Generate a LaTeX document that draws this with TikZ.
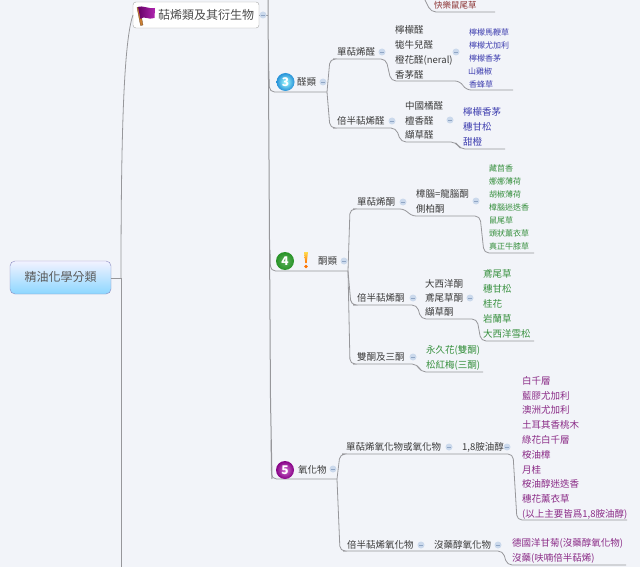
\documentclass[tikz,border=0pt]{standalone}
\usepackage{fontspec}
\setmainfont{Noto Sans CJK TC}
\usetikzlibrary{calc}
\definecolor{bgc}{HTML}{F2F4F9}
\definecolor{linkc}{HTML}{97979B}
\definecolor{ink}{HTML}{3A3A3A}
\definecolor{bluet}{HTML}{3C3CAE}
\definecolor{greent}{HTML}{358F3C}
\definecolor{purt}{HTML}{8A2A86}
\definecolor{redt}{HTML}{8A3030}
\definecolor{togc}{HTML}{CBD9EC}
\definecolor{togd}{HTML}{8FA5C4}
\newcommand{\conn}[3][3]{\draw[link] (#2) -- ($(#2|-#3)+(#1,0)$) -- (#3);}
\tikzset{
  link/.style={draw=linkc,line width=0.8pt,rounded corners=5pt},
  lbl/.style={anchor=west,inner sep=0pt,text=ink,font=\fontsize{9.5}{10}\selectfont},
  bluel/.style={lbl,text=bluet,font=\fontsize{8}{9}\selectfont},
  blueb/.style={lbl,text=bluet,font=\fontsize{9.5}{10}\selectfont},
  greens/.style={lbl,text=greent,font=\fontsize{8}{9}\selectfont},
  greenb/.style={lbl,text=greent,font=\fontsize{9.5}{10}\selectfont},
  purl/.style={lbl,text=purt,font=\fontsize{9.5}{10}\selectfont},
  tog/.style={circle,minimum size=7pt,inner sep=0pt,fill=togc,
    path picture={\draw[togd,line width=0.6pt] ([xshift=-1.8pt]path picture bounding box.center) -- ([xshift=1.8pt]path picture bounding box.center);}},
  ball/.style={circle,minimum size=18pt,inner sep=0pt,text=white,font=\bfseries\fontsize{12}{12}\selectfont},
}
\begin{document}
\begin{tikzpicture}[x=1pt,y=-1pt]
\useasboundingbox (0,0) rectangle (640,567);
\fill[bgc] (0,0) rectangle (640,567);

% named line ends
\coordinate (trunkA) at (121,278);
\coordinate (trunkB) at (121,567);
\coordinate (flagIn) at (133,15);
\coordinate (top2) at (268,0);
\coordinate (fork) at (268,15);
\coordinate (b3s) at (272,92);
\coordinate (b3e) at (327,92);
\coordinate (b4s) at (272,271);
\coordinate (b4e) at (348,271);
\coordinate (b5s) at (272,479);
\coordinate (b5e) at (337,479);
\coordinate (a1s) at (333,59);
\coordinate (a1e) at (386,59);
\coordinate (a1x) at (391,81);
\coordinate (a1y) at (460,81);
\coordinate (a1p) at (466,90);
\coordinate (a1q) at (513,90);
\coordinate (a2s) at (333,128);
\coordinate (a2e) at (396,128);
\coordinate (a2x) at (401,142);
\coordinate (a2y) at (456,142);
\coordinate (a2p) at (460,149);
\coordinate (a2q) at (505,149);
\coordinate (k1s) at (353,209);
\coordinate (k1e) at (405,209);
\coordinate (k1x) at (411,216);
\coordinate (k1y) at (480,216);
\coordinate (k1p) at (484,253);
\coordinate (k1q) at (534,253);
\coordinate (k2s) at (353,305);
\coordinate (k2e) at (417,305);
\coordinate (k2x) at (421,319);
\coordinate (k2y) at (477,319);
\coordinate (k2p) at (481,341);
\coordinate (k2q) at (534,341);
\coordinate (k3s) at (353,364);
\coordinate (k3e) at (417,364);
\coordinate (k3x) at (421,372);
\coordinate (k3y) at (483,372);
\coordinate (o1s) at (342,454);
\coordinate (o1e) at (513,454);
\coordinate (o1p) at (517,520);
\coordinate (o1q) at (627,520);
\coordinate (o2s) at (343,551);
\coordinate (o2e) at (428,551);
\coordinate (o2y) at (503,551);
\coordinate (o2p) at (507,565);
\coordinate (o2q) at (626,565);
\coordinate (t0a) at (425,0);
\coordinate (t0b) at (431,12);
\coordinate (t0c) at (495,12);

% central nodes
\node[draw=blue!30!gray!70,rounded corners=5pt,top color=blue!5!white,bottom color=blue!35!cyan!45!white,
  minimum width=101pt,minimum height=33pt,inner sep=0pt,text=black!65,font=\fontsize{12}{12}\selectfont] (root) at (60.5,277.5) {精油化學分類};
\node[draw=black!35,fill=white,rounded corners=3pt,minimum width=126pt,minimum height=26pt,inner sep=0pt] (flagbox) at (196,15) {};
\node[anchor=west,inner sep=0pt,text=black!70,font=\fontsize{12}{12}\selectfont] (flagtext) at (158,15) {萜烯類及其衍生物};

% connectors
\draw[link] (root.east|-trunkA) -- (trunkA);
\draw[link] (trunkA) -- (trunkB);
\draw[link] (trunkA) .. controls (121,130) and (124,40) .. (flagIn);
\draw[link] (flagbox.east) -- (fork);
\draw[link,line width=1pt] (top2) -- (270.5,400) -- (b5s|-b5e);
\draw[link] (268.5,60) -- (269.5,92) -- (b3e);
\draw[link] (270,250) -- (270.5,271) -- (b4e);
\draw[link] (271,440) -- (271.5,479) -- (b5e);
\conn{b3e}{a1s}
\conn{b3e}{a2s}
\draw[link] (a1s) -- (a1e) -- (a1x) -- (a1y) -- (a1p) -- (a1q);
\draw[link] (a2s) -- (a2e) -- (a2x) -- (a2y) -- (a2p) -- (a2q);
\conn[2]{b4e}{k1s}
\conn[3]{b4e}{k2s}
\conn[2]{b4e}{k3s}
\draw[link] (k1s) -- (k1e) -- (k1x) -- (k1y) -- (k1p) -- (k1q);
\draw[link] (k2s) -- (k2e) -- (k2x) -- (k2y) -- (k2p) -- (k2q);
\draw[link] (k3s) -- (k3e) -- (k3x) -- (k3y);
\conn{b5e}{o1s}
\conn{b5e}{o2s}
\draw[link] (o1s) -- (o1e) -- (o1p) -- (o1q);
\draw[link] (o2s) -- (o2y) -- (o2p) -- (o2q);
\draw[link] (t0a) -- (t0b) -- (t0c);

% flag icon
\fill[brown!80!orange,draw=brown!60!black,line width=0.3pt] (137,7.5) -- (139.5,7) -- (143,25) -- (140.5,25.5) -- cycle;
\shade[left color=violet!80!black,right color=violet!45!magenta!70!gray] (138,7) .. controls (143,5) and (147,9) .. (155,8)
  -- (154.5,18) .. controls (148,20.5) and (144,15) .. (140.5,19) -- cycle;

% number balls
\shade[inner color=cyan!35!white,outer color=cyan!60!blue!70!gray] (285.5,82) circle (9pt);
\node[ball] (n3) at (285.5,82) {3};
\node[lbl] (aldeh) at (297,82) {醛類};
\node[tog] (c3) at (323,82) {};
\shade[inner color=green!45!white!70!black,outer color=green!50!black!85] (285,261) circle (9pt);
\node[ball] (n4) at (285,261) {4};
\shade[top color=orange!40!yellow!70!white,bottom color=orange!90!red] (304,252) -- (308,252) -- (306.7,263) -- (305.3,263) -- cycle;
\fill[orange!90!red] (306,266.5) circle (1.8pt);
\node[lbl] (keton) at (318,261) {酮類};
\node[tog] (c4) at (344,261) {};
\shade[inner color=magenta!35!violet!55!white,outer color=violet!60!magenta!75!black] (285,470) circle (9pt);
\node[ball] (n5) at (285,470) {5};
\node[lbl] (oxide) at (298,470) {氧化物};
\node[tog] (c5) at (333,469) {};
\node[tog] (cf) at (263,15) {};

% top fragment
\node[lbl,text=redt,font=\fontsize{8.5}{9}\selectfont] (r0) at (434,5) {快樂鼠尾草};

% aldehydes
\node[lbl] (a1) at (337,52) {單萜烯醛};
\node[tog] (ca1) at (382,52) {};
\node[lbl] (a11) at (395,30) {檸檬醛};
\node[lbl] (a12) at (395,45) {牻牛兒醛};
\node[lbl] (a13) at (395,60) {橙花醛(neral)};
\node[lbl] (a14) at (395,75) {香茅醛};
\node[tog] (ca11) at (456,52) {};
\node[bluel] (p1) at (469,32) {檸檬馬鞭草};
\node[bluel] (p2) at (469,45) {檸檬尤加利};
\node[bluel] (p3) at (469,58) {檸檬香茅};
\node[bluel] (p4) at (468,71) {山雞椒};
\node[bluel] (p5) at (469,84) {香蜂草};
\node[lbl] (a2) at (337,121) {倍半萜烯醛};
\node[tog] (ca2) at (392,121) {};
\node[lbl] (a21) at (405,106) {中國橘醛};
\node[lbl] (a22) at (405,121) {檀香醛};
\node[lbl] (a23) at (405,135) {纈草醛};
\node[tog] (ca21) at (450,120) {};
\node[blueb] (q1) at (463,112) {檸檬香茅};
\node[blueb] (q2) at (463,127) {穗甘松};
\node[blueb] (q3) at (463,142) {甜橙};

% ketones
\node[lbl] (k1) at (357,202) {單萜烯酮};
\node[tog] (ck1) at (403,202) {};
\node[lbl] (k11) at (416,194) {樟腦=龍腦酮};
\node[lbl] (k12) at (416,209) {側柏酮};
\node[tog] (ck11) at (476,201) {};
\node[greens] (g1) at (489,168) {藏茴香};
\node[greens] (g2) at (489,181) {娜娜薄荷};
\node[greens] (g3) at (489,194) {胡椒薄荷};
\node[greens] (g4) at (489,207) {樟腦迷迭香};
\node[greens] (g5) at (489,220) {鼠尾草};
\node[greens] (g6) at (489,233) {頭狀薰衣草};
\node[greens] (g7) at (489,246) {真正牛膝草};
\node[lbl] (k2) at (357,298) {倍半萜烯酮};
\node[tog] (ck2) at (413,298) {};
\node[lbl] (k21) at (425,284) {大西洋酮};
\node[lbl] (k22) at (425,298) {鳶尾草酮};
\node[lbl] (k23) at (425,312) {纈草酮};
\node[tog] (ck21) at (470,298) {};
\node[greenb] (h1) at (483,274) {鳶尾草};
\node[greenb] (h2) at (483,289) {穗甘松};
\node[greenb] (h3) at (483,304) {桂花};
\node[greenb] (h4) at (483,319) {岩蘭草};
\node[greenb] (h5) at (483,334) {大西洋雪松};
\node[lbl] (k3) at (357,357) {雙酮及三酮};
\node[tog] (ck3) at (413,357) {};
\node[greenb] (i1) at (426,350) {永久花(雙酮)};
\node[greenb] (i2) at (426,365) {松紅梅(三酮)};

% oxides
\node[lbl] (o1) at (346,447) {單萜烯氧化物或氧化物};
\node[tog] (co1) at (449,447) {};
\node[lbl] (o11) at (462,447) {1,8胺油醇};
\node[tog] (co11) at (507,447) {};
\node[purl] (m1) at (522,381) {白千層};
\node[purl] (m2) at (522,396) {藍膠尤加利};
\node[purl] (m3) at (522,410) {澳洲尤加利};
\node[purl] (m4) at (522,425) {土耳其香桃木};
\node[purl] (m5) at (522,440) {綠花白千層};
\node[purl] (m6) at (522,455) {桉油樟};
\node[purl] (m7) at (522,470) {月桂};
\node[purl] (m8) at (522,484) {桉油醇迷迭香};
\node[purl] (m9) at (522,499) {穗花薰衣草};
\node[purl] (m10) at (522,514) {(以上主要皆爲1,8胺油醇)};
\node[lbl] (o2) at (347,545) {倍半萜烯氧化物};
\node[tog] (co2) at (421,545) {};
\node[lbl] (o21) at (434,545) {沒藥醇氧化物};
\node[tog] (co21) at (498,545) {};
\node[purl] (n1) at (512,543) {德國洋甘菊(沒藥醇氧化物)};
\node[purl] (n2) at (512,558) {沒藥(呋喃倍半萜烯)};
\end{tikzpicture}
\end{document}
